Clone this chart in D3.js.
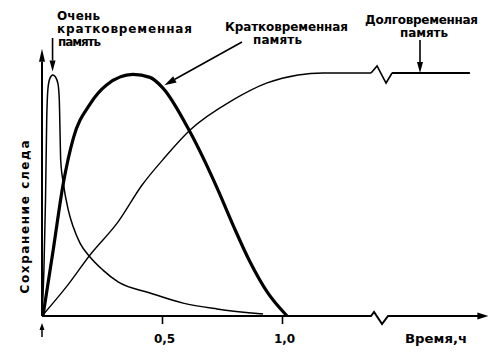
<!DOCTYPE html>
<html><head><meta charset="utf-8">
<script src="https://cdn.jsdelivr.net/npm/d3@7"></script>
<style>
body{margin:0;background:#fff}
svg{display:block}
text{font-family:"DejaVu Sans",sans-serif;font-weight:bold;fill:#000;font-size:12px}
</style>
</head><body><svg id="c" width="500" height="357"></svg>
<script>
// ---- data (time in hours, trace retention in % of maximum) ----
const vstmTime  = [0, 0.008, 0.0146, 0.0196, 0.025, 0.0333, 0.0446, 0.056, 0.0667, 0.0721, 0.075, 0.0779, 0.0888, 0.1096, 0.1304, 0.1583, 0.200, 0.254, 0.317, 0.450, 0.588, 0.729, 0.921];
const vstmValue = [0, 18.9, 47.7, 80.7, 93.8, 97.9, 99.2, 98.4, 95.5, 88.9, 76.5, 64.2, 54.7, 43.6, 36.6, 30.0, 24.3, 18.9, 14.0, 9.5, 5.3, 2.9, 0.8];
const stmTime   = [0.004, 0.047, 0.089, 0.131, 0.200, 0.269, 0.379, 0.450, 0.504, 0.617, 0.733, 0.796, 0.867, 0.938, 1.021];
const stmValue  = [0, 27.4, 54.7, 73.3, 87.2, 95.1, 99.4, 98.2, 93.8, 75.7, 51.9, 37.4, 22.2, 9.9, 0];
const ltmTime   = [0, 0.108, 0.200, 0.317, 0.417, 0.513, 0.617, 0.796, 0.938, 1.067, 1.171, 1.371];
const ltmValue  = [0, 12.8, 25.1, 38.7, 53.9, 65.4, 76.5, 88.9, 95.9, 99.2, 100, 100];
const ltmAfterTime  = [1.458, 1.783];
const ltmAfterValue = [100, 100];
const tickValues = [0.5, 1.0];
const tickLabels = ["0,5", "1,0"];
const axisBreakTime = 1.371;
const xTitle = "Время,ч";
const yTitle = "Сохранение следа";
const vstmLabel = ["Очень", "кратковременная", "память"];
const stmLabel  = ["Кратковременная", "память"];
const ltmLabel  = ["Долговременная", "память"];

// ---- layout ----
const svg = d3.select("#c");
const x = d3.scaleLinear().domain([0, 1.86]).range([42, 42 + 240 * 1.86]);
const y = d3.scaleLinear().domain([0, 100]).range([316, 73]);

const line = d3.line().x(d => x(d[0])).y(d => y(d[1])).curve(d3.curveMonotoneX);
const zip = (a, b) => a.map((v, i) => [v, b[i]]);

function arrow(x1, y1, x2, y2, len, hw, sw) {
  const a = Math.atan2(y2 - y1, x2 - x1);
  const bx = x2 - len * Math.cos(a), by = y2 - len * Math.sin(a);
  svg.append("line").attr("x1", x1).attr("y1", y1).attr("x2", bx).attr("y2", by)
    .attr("stroke", "#000").attr("stroke-width", sw);
  const px = -Math.sin(a) * hw, py = Math.cos(a) * hw;
  svg.append("path").attr("d", `M${x2},${y2}L${bx + px},${by + py}L${bx - px},${by - py}Z`).attr("fill", "#000");
}

// ---- axes ----
const x0 = x(0), yb = y(0), xb = x(axisBreakTime);
svg.append("path")
  .attr("d", `M${x0},${yb}L${xb},${yb}l3,-4l8,12l6,-8L${x(1.86) - 10},${yb}`)
  .attr("fill", "none").attr("stroke", "#000").attr("stroke-width", 2);
arrow(x(1.80), yb, x(1.86), yb, 11, 3.5, 2);
arrow(x0, yb, x0, y(110), 13, 3, 2);
// small arrow under origin
arrow(x0, yb + 21, x0, yb + 7, 7, 2.5, 1.5);

const ax = d3.axisBottom(x).tickValues(tickValues).tickFormat((d, i) => tickLabels[i]).tickSize(8).tickPadding(10);
const g = svg.append("g").attr("transform", `translate(0,${yb})`).call(ax);
g.select(".domain").remove();
g.selectAll(".tick line").attr("stroke", "#000").attr("stroke-width", 1.6);
g.selectAll(".tick text").attr("font-family", "DejaVu Sans").attr("font-size", 12).attr("font-weight", "bold").attr("fill", "#000").attr("dx", 2);

svg.append("text").attr("x", 405).attr("y", 343).attr("textLength", 62).attr("lengthAdjust", "spacingAndGlyphs").text(xTitle);
svg.append("text").attr("transform", "translate(29,217) rotate(-90)").attr("text-anchor", "middle")
  .attr("textLength", 153).attr("lengthAdjust", "spacing").text(yTitle);

// ---- curves ----
svg.append("path").attr("d", line(zip(ltmTime, ltmValue))).attr("fill", "none").attr("stroke", "#000").attr("stroke-width", 1.4);
const lx = x(axisBreakTime), ly = y(100);
svg.append("path").attr("d", `M${lx},${ly}l6,-7l9,17l6,-10`).attr("fill", "none").attr("stroke", "#000").attr("stroke-width", 1.6);
svg.append("path").attr("d", line(zip(ltmAfterTime, ltmAfterValue))).attr("fill", "none").attr("stroke", "#000").attr("stroke-width", 1.8);
svg.append("path").attr("d", line(zip(vstmTime, vstmValue))).attr("fill", "none").attr("stroke", "#000").attr("stroke-width", 1.5);
svg.append("path").attr("d", line(zip(stmTime, stmValue))).attr("fill", "none").attr("stroke", "#000").attr("stroke-width", 3.2).attr("stroke-linejoin", "round");

// ---- annotations ----
const tA = svg.append("g");
tA.append("text").attr("x", 57).attr("y", 20).attr("textLength", 43).attr("lengthAdjust", "spacing").text(vstmLabel[0]);
tA.append("text").attr("x", 57).attr("y", 33).attr("textLength", 135).attr("lengthAdjust", "spacing").text(vstmLabel[1]);
tA.append("text").attr("x", 58).attr("y", 46).attr("textLength", 43).attr("lengthAdjust", "spacing").text(vstmLabel[2]);
arrow(x(0.044), 38, x(0.044), y(99) - 4, 11, 3, 1.6);

tA.append("text").attr("x", 225).attr("y", 31).attr("textLength", 123).attr("lengthAdjust", "spacing").text(stmLabel[0]);
tA.append("text").attr("x", 253).attr("y", 44).attr("textLength", 49).attr("lengthAdjust", "spacing").text(stmLabel[1]);
arrow(242, 42, x(0.51), y(95), 12, 3.5, 1.6);

tA.append("text").attr("x", 365).attr("y", 24).attr("textLength", 113).attr("lengthAdjust", "spacing").text(ltmLabel[0]);
tA.append("text").attr("x", 400).attr("y", 37).attr("textLength", 48).attr("lengthAdjust", "spacing").text(ltmLabel[1]);
arrow(x(1.575), 40, x(1.575), y(100), 11, 3, 1.6);
</script>
</body></html>
